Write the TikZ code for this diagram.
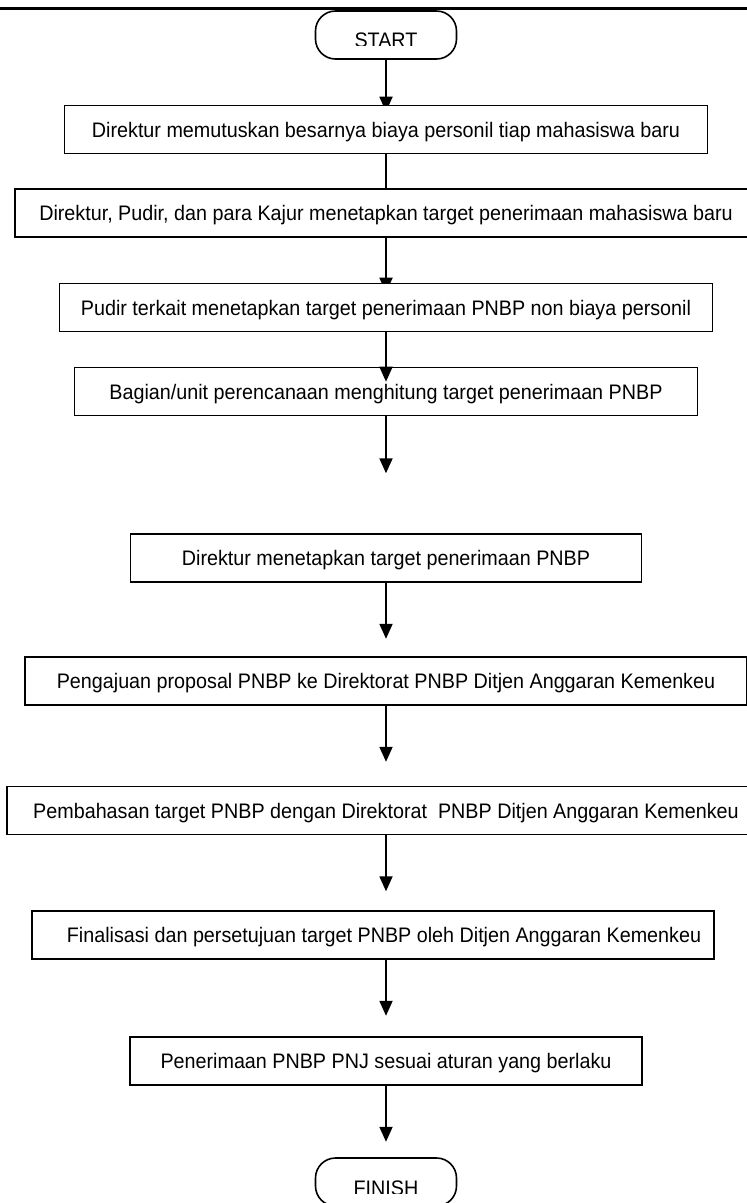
\documentclass[tikz,border=0pt]{standalone}
\usepackage{fontspec}
\setmainfont{Liberation Sans}[FakeStretch=0.94]
\usetikzlibrary{arrows.meta,backgrounds}
\begin{document}
\begin{tikzpicture}[x=1pt,y=-1pt,
  txt/.style={font=\fontsize{21}{25}\selectfont},
  stepbox/.style={txt, draw, line width=1.6pt, fill=white, minimum height=48pt,
    inner sep=0pt, text height=15pt, text depth=0pt},
  term/.style={draw, line width=1.6pt, fill=white, rounded corners=20pt,
    minimum width=141pt, minimum height=48pt, inner sep=0pt},
  flow/.style={line width=1.8pt, -{Triangle[length=15pt,width=13pt]}},
  lbl/.style={txt, inner sep=0pt, anchor=base}]
\useasboundingbox (0,0) rectangle (747,1203);

% rule across the top of the page
\draw[line width=3pt] (0,8.5) -- (747,8.5);

% terminals
\node[term] (start) at (386,35) {};
\begin{scope}
  \clip (300,0) rectangle (470,45);
  \node[lbl] (starttext) at (386,47) {START};
\end{scope}

% process steps
\node[stepbox, minimum width=643pt] (b1) at (386,129.5)
  {Direktur memutuskan besarnya biaya personil tiap mahasiswa baru};
\node[stepbox, minimum width=742pt] (b2) at (386,213)
  {Direktur, Pudir, dan para Kajur menetapkan target penerimaan mahasiswa baru};
\node[stepbox, minimum width=653pt] (b3) at (386,307.5)
  {Pudir terkait menetapkan target penerimaan PNBP non biaya personil};
\node[stepbox, minimum width=623pt] (b4) at (386,391.5)
  {Bagian/unit perencanaan menghitung target penerimaan PNBP};
\node[stepbox, minimum width=511pt] (b5) at (386,558)
  {Direktur menetapkan target penerimaan PNBP};
\node[stepbox, minimum width=722pt] (b6) at (386,681)
  {Pengajuan proposal PNBP ke Direktorat PNBP Ditjen Anggaran Kemenkeu};
\node[stepbox, minimum width=758pt] (b7) at (386,810.5)
  {Pembahasan target PNBP dengan Direktorat \ PNBP Ditjen Anggaran Kemenkeu};
\node[stepbox, minimum width=682pt] (b8) at (373,935)
  {\hspace*{22pt}Finalisasi dan persetujuan target PNBP oleh Ditjen Anggaran Kemenkeu};
\node[stepbox, minimum width=512pt] (b9) at (386,1061)
  {Penerimaan PNBP PNJ sesuai aturan yang berlaku};

\node[term] (finish) at (386,1182) {};
\begin{scope}
  \clip (300,1150) rectangle (470,1193);
  \node[lbl] (finishtext) at (386,1195) {FINISH};
\end{scope}

% connectors whose heads sit beneath the next box
\begin{scope}[on background layer]
  \draw[flow] (start.south) -- ([yshift=-7pt]b1.north);
  \draw[flow] (b1.south) -- ([yshift=-17pt]b2.north);
  \draw[flow] (b2.south) -- ([yshift=-10pt]b3.north);
\end{scope}

% connectors drawn over the boxes
\coordinate (e4) at ([yshift=-57pt]b4.south);
\coordinate (e5) at ([yshift=-56pt]b5.south);
\coordinate (e6) at ([yshift=-56pt]b6.south);
\coordinate (e7) at ([yshift=-56pt]b7.south);
\coordinate (e8) at ([yshift=-56pt]b8.south -| b9.south);
\coordinate (e9) at ([yshift=-56pt]b9.south);
\draw[flow] (b3.south) -- ([yshift=-15pt]b4.north);
\draw[flow] (b4.south) -- (e4);
\draw[flow] (b5.south) -- (e5);
\draw[flow] (b6.south) -- (e6);
\draw[flow] (b7.south) -- (e7);
\draw[flow] (b8.south -| b9.south) -- (e8);
\draw[flow] (b9.south) -- (e9);
\end{tikzpicture}
\end{document}
